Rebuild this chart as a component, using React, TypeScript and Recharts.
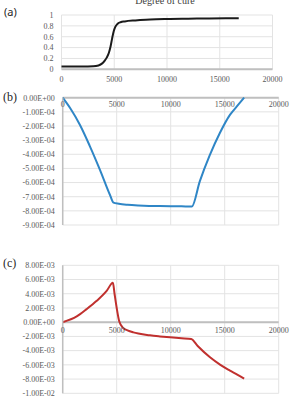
import React from 'react';
import {
  LineChart,
  Line,
  XAxis,
  YAxis,
  CartesianGrid,
  ReferenceLine,
  ReferenceDot,
} from 'recharts';

// ---- Panel (a): degree of cure vs time ----
const cureTime = [0, 1000, 2000, 3000, 3500, 3800, 4100, 4300, 4500, 4650, 4800, 4950, 5100, 5300, 5600, 6000, 7000, 8000, 9000, 10000, 12000, 14000, 16800];
const cureValue = [0.05, 0.05, 0.05, 0.055, 0.07, 0.1, 0.16, 0.22, 0.31, 0.42, 0.57, 0.7, 0.78, 0.835, 0.867, 0.882, 0.9, 0.912, 0.92, 0.926, 0.932, 0.937, 0.94];
const cureTicks = [0, 0.2, 0.4, 0.6, 0.8, 1];

// ---- Panel (b) ----
const bTime = [0, 700, 1600, 2500, 3450, 4380, 4700, 5200, 6000, 7000, 8000, 9000, 10000, 11000, 11950, 12700, 13600, 14550, 15500, 16200, 16800];
const bValue = [0, -0.75e-4, -1.93e-4, -3.4e-4, -5.1e-4, -6.88e-4, -7.42e-4, -7.5e-4, -7.57e-4, -7.62e-4, -7.65e-4, -7.66e-4, -7.67e-4, -7.68e-4, -7.7e-4, -5.9e-4, -4.1e-4, -2.5e-4, -1.2e-4, -0.55e-4, 0];
const bTicks = [-9e-4, -8e-4, -7e-4, -6e-4, -5e-4, -4e-4, -3e-4, -2e-4, -1e-4, 0];

// ---- Panel (c) ----
const cTime = [0, 1300, 2220, 3150, 4070, 4650, 4800, 5000, 5240, 5610, 6000, 6540, 7000, 8080, 9000, 9940, 11000, 11900, 12500, 13640, 14600, 15490, 16200, 16800];
const cValue = [0, 0.81e-3, 1.84e-3, 3.0e-3, 4.4e-3, 5.55e-3, 4.0e-3, 2.0e-3, 0.1e-3, -0.83e-3, -1.15e-3, -1.43e-3, -1.6e-3, -1.85e-3, -2.0e-3, -2.13e-3, -2.25e-3, -2.37e-3, -3.35e-3, -4.94e-3, -6.0e-3, -6.8e-3, -7.4e-3, -7.95e-3];
const cTicks = [-1e-2, -8e-3, -6e-3, -4e-3, -2e-3, 0, 2e-3, 4e-3, 6e-3, 8e-3];

// shared time axis ticks
const timeTicks = [0, 5000, 10000, 15000, 20000];

const SERIF = '"Times New Roman", "Liberation Serif", serif';
const TICK_COLOR = '#595959';
const GRID = '#e3e3e3';
const AXIS = '#bfbfbf';

const zip = (xs: number[], ys: number[]) => xs.map((t, i) => ({ t, v: ys[i] }));
const cureData = zip(cureTime, cureValue);
const bData = zip(bTime, bValue);
const cData = zip(cTime, cValue);

// Excel-style scientific notation, e.g. -1.00E-04
const sci = (v: number) => {
  if (v === 0) return '0.00E+00';
  const [m, e] = v.toExponential(2).split('e');
  const n = Number(e);
  return `${m}E${n < 0 ? '-' : '+'}${String(Math.abs(n)).padStart(2, '0')}`;
};

const tickStyle = { fontSize: 8, fill: TICK_COLOR, fontFamily: SERIF };

const panelLabel = (text: string, top: number, left: number, family: string, size: number) => (
  <div
    style={{
      position: 'absolute',
      top,
      left,
      fontFamily: family,
      fontSize: size,
      lineHeight: `${size}px`,
      color: '#1f1f1f',
      whiteSpace: 'nowrap',
    }}
  >
    {text}
  </div>
);

export default function App() {
  return (
    <div
      style={{
        position: 'absolute',
        left: 0,
        top: 0,
        width: 291,
        height: 396,
        overflow: 'hidden',
        background: '#fff',
      }}
    >
      {/* title */}
      <div
        style={{
          position: 'absolute',
          top: -3.6,
          left: 39,
          width: 252,
          textAlign: 'center',
          fontFamily: SERIF,
          fontSize: 10,
          lineHeight: '10px',
          color: '#404040',
        }}
      >
        Degree of cure
      </div>
      {panelLabel('(a)', 6, 4, '"Noto Sans", sans-serif', 11)}
      {panelLabel('(b)', 91, 3, SERIF, 12)}
      {panelLabel('(c)', 257, 3, SERIF, 12)}

      {/* (a) */}
      <div style={{ position: 'absolute', top: 0, left: 0 }}>
        <LineChart width={291} height={88} data={cureData} margin={{ top: 15, right: 18.5, left: 0, bottom: 0 }}>
          <CartesianGrid stroke={GRID} />
          <XAxis
            dataKey="t"
            type="number"
            domain={[0, 20000]}
            ticks={timeTicks}
            interval={0}
            height={18.7}
            tickLine={false}
            tickSize={5}
            tickMargin={2}
            axisLine={{ stroke: AXIS, strokeWidth: 2 }}
            tick={tickStyle}
          />
          <YAxis
            type="number"
            domain={[0, 1]}
            ticks={cureTicks}
            interval={0}
            width={61.5}
            tickLine={false}
            axisLine={false}
            tick={tickStyle}
          />
          <Line type="monotone" dataKey="v" stroke="#1a1a1a" strokeWidth={2} dot={false} isAnimationActive={false} />
        </LineChart>
      </div>

      {/* (b) */}
      <div style={{ position: 'absolute', top: 85, left: 0 }}>
        <LineChart width={291} height={150} data={bData} margin={{ top: 12.7, right: 12.3, left: 0, bottom: 10 }}>
          <CartesianGrid stroke={GRID} />
          <XAxis dataKey="t" type="number" domain={[0, 20000]} ticks={timeTicks} interval={0} hide />
          <YAxis
            type="number"
            domain={[-9e-4, 0]}
            ticks={bTicks}
            interval={0}
            width={62.7}
            tickLine={false}
            axisLine={{ stroke: AXIS, strokeWidth: 1.5 }}
            tick={tickStyle}
            tickFormatter={sci}
          />
          <ReferenceLine y={0} stroke={AXIS} strokeWidth={2} />
          {timeTicks.map((t) => (
            <ReferenceDot
              key={t}
              x={t}
              y={0}
              r={0}
              fill="none"
              stroke="none"
              label={{ value: String(t), position: 'bottom', offset: 4, ...tickStyle }}
            />
          ))}
          <Line type="monotone" dataKey="v" stroke="#2f86c6" strokeWidth={2} dot={false} isAnimationActive={false} />
        </LineChart>
      </div>

      {/* (c) */}
      <div style={{ position: 'absolute', top: 250, left: 0 }}>
        <LineChart width={291} height={150} data={cData} margin={{ top: 15.3, right: 12.3, left: 0, bottom: 6.7 }}>
          <CartesianGrid stroke={GRID} />
          <XAxis dataKey="t" type="number" domain={[0, 20000]} ticks={timeTicks} interval={0} hide />
          <YAxis
            type="number"
            domain={[-1e-2, 8e-3]}
            ticks={cTicks}
            interval={0}
            width={62.7}
            tickLine={false}
            axisLine={{ stroke: AXIS, strokeWidth: 1.5 }}
            tick={tickStyle}
            tickFormatter={sci}
          />
          <ReferenceLine y={0} stroke={AXIS} strokeWidth={2} />
          {timeTicks.map((t) => (
            <ReferenceDot
              key={t}
              x={t}
              y={0}
              r={0}
              fill="none"
              stroke="none"
              label={{ value: String(t), position: 'bottom', offset: 5, ...tickStyle }}
            />
          ))}
          <Line type="monotone" dataKey="v" stroke="#c0302e" strokeWidth={2} dot={false} isAnimationActive={false} />
        </LineChart>
      </div>
    </div>
  );
}
